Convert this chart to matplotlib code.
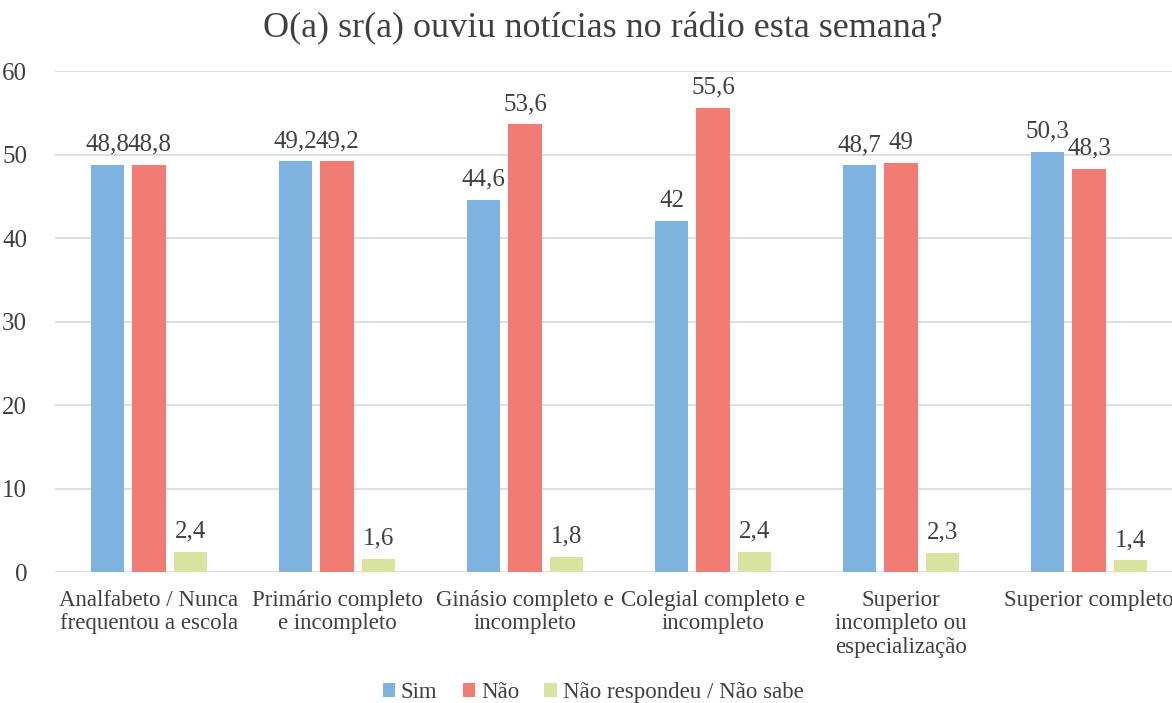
import numpy as np
import matplotlib.pyplot as plt

# Dados
categorias = ['Analfabeto / Nunca\nfrequentou a escola', 'Primário completo\ne incompleto',
              'Ginásio completo e\nincompleto', 'Colegial completo e\nincompleto',
              'Superior\nincompleto ou\nespecialização', 'Superior completo']
sim = [48.8, 49.2, 44.6, 42.0, 48.7, 50.3]
nao = [48.8, 49.2, 53.6, 55.6, 49.0, 48.3]
nr = [2.4, 1.6, 1.8, 2.4, 2.3, 1.4]
series = ['Sim', 'Não', 'Não respondeu / Não sabe']
cores = ['#7FB3DF', '#F07C73', '#D9E4A0']

plt.rcParams['font.family'] = ['Liberation Serif', 'DejaVu Serif']
cinza = '#404040'

fig = plt.figure(figsize=(11.72, 7.03), dpi=100)
ax = fig.add_axes([0.0469, 0.1863, 0.9625, 0.7127])

x = np.arange(len(categorias))
larg = 0.176
passo = 0.22

def rotulo(v):
    s = f'{v:.1f}'.replace('.', ',')
    return s[:-2] if s.endswith(',0') else s

for i, (vals, cor, nome) in enumerate(zip([sim, nao, nr], cores, series)):
    pos = x + (i - 1) * passo
    ax.bar(pos, vals, larg, color=cor, label=nome, zorder=3)
    for px, v in zip(pos, vals):
        ax.text(px, v + 1.1, rotulo(v), ha='center', va='bottom', fontsize=18, color=cinza)

ax.set_xlim(-0.5, len(categorias) - 0.5)
ax.set_ylim(0, 60)
ax.set_yticks(range(0, 61, 10))
ax.set_xticks(x)
ax.set_xticklabels(categorias, fontsize=16.5, color=cinza, linespacing=1.15)
ax.tick_params(axis='y', labelsize=18, labelcolor=cinza, length=0, pad=20)
ax.tick_params(axis='x', length=0, pad=13)
ax.yaxis.grid(True, color='#D9D9D9', linewidth=1.2, zorder=0)
for s in ax.spines.values():
    s.set_visible(False)

fig.suptitle('O(a) sr(a) ouviu notícias no rádio esta semana?', x=0.5145, y=0.982,
             fontsize=26, color=cinza)
fig.legend(loc='lower center', bbox_to_anchor=(0.506, -0.03), ncol=3, frameon=False,
           fontsize=16.5, handlelength=0.55, handleheight=0.55, handletextpad=0.25,
           columnspacing=1.1, labelcolor=cinza)

fig.savefig('out.png', dpi=100)
